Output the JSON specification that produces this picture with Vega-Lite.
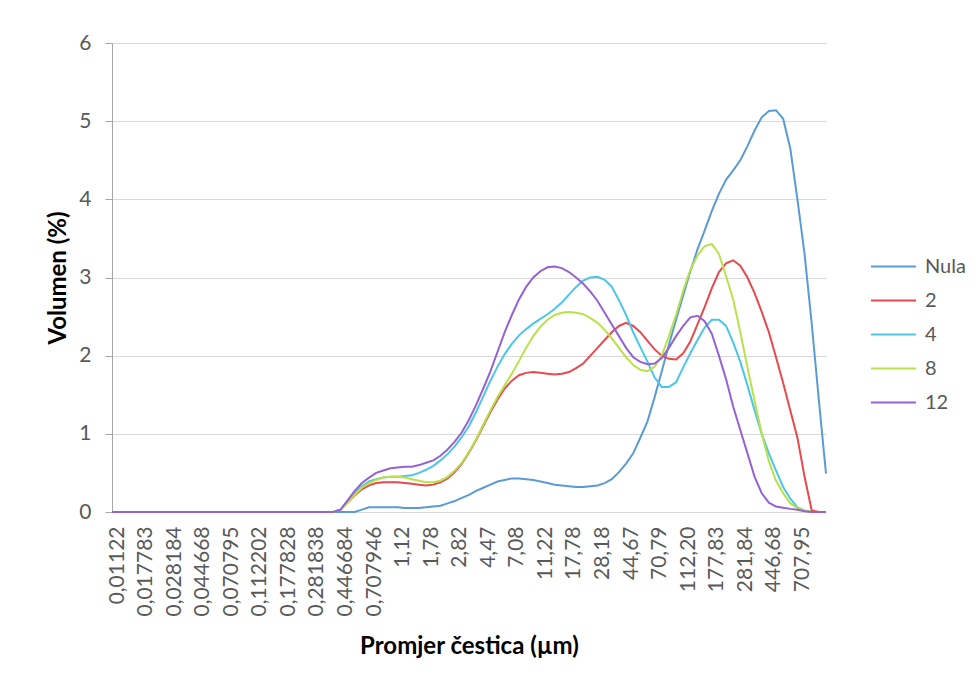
{
"$schema": "https://vega.github.io/schema/vega-lite/v6.json",
"width": 714, "height": 469,
"autosize": {"type": "none"},
"padding": {"left": 112, "top": 43, "right": 154, "bottom": 175},
"background": "white",
"config": {"font": "Lato", "view": {"stroke": null}},
"data": {"values": [
{"d":"0,01122","s":"Nula","v":0},{"d":"0,012589","s":"Nula","v":0},{"d":"0,014125","s":"Nula","v":0},{"d":"0,015849","s":"Nula","v":0},{"d":"0,017783","s":"Nula","v":0},{"d":"0,019953","s":"Nula","v":0},{"d":"0,022387","s":"Nula","v":0},{"d":"0,025119","s":"Nula","v":0},{"d":"0,028184","s":"Nula","v":0},{"d":"0,031623","s":"Nula","v":0},{"d":"0,035481","s":"Nula","v":0},{"d":"0,039811","s":"Nula","v":0},{"d":"0,044668","s":"Nula","v":0},{"d":"0,050119","s":"Nula","v":0},{"d":"0,056234","s":"Nula","v":0},{"d":"0,063096","s":"Nula","v":0},{"d":"0,070795","s":"Nula","v":0},{"d":"0,079433","s":"Nula","v":0},{"d":"0,089125","s":"Nula","v":0},{"d":"0,1","s":"Nula","v":0},{"d":"0,112202","s":"Nula","v":0},{"d":"0,125893","s":"Nula","v":0},{"d":"0,141254","s":"Nula","v":0},{"d":"0,158489","s":"Nula","v":0},{"d":"0,177828","s":"Nula","v":0},{"d":"0,199526","s":"Nula","v":0},{"d":"0,223872","s":"Nula","v":0},{"d":"0,251189","s":"Nula","v":0},{"d":"0,281838","s":"Nula","v":0},{"d":"0,316228","s":"Nula","v":0},{"d":"0,354813","s":"Nula","v":0},{"d":"0,398107","s":"Nula","v":0},{"d":"0,446684","s":"Nula","v":0},{"d":"0,501187","s":"Nula","v":0},{"d":"0,562341","s":"Nula","v":0},{"d":"0,630957","s":"Nula","v":0.03},{"d":"0,707946","s":"Nula","v":0.06},{"d":"0,794328","s":"Nula","v":0.06},{"d":"0,891251","s":"Nula","v":0.06},{"d":"1,00","s":"Nula","v":0.06},{"d":"1,12","s":"Nula","v":0.06},{"d":"1,26","s":"Nula","v":0.05},{"d":"1,41","s":"Nula","v":0.05},{"d":"1,58","s":"Nula","v":0.05},{"d":"1,78","s":"Nula","v":0.06},{"d":"2,00","s":"Nula","v":0.07},{"d":"2,24","s":"Nula","v":0.08},{"d":"2,51","s":"Nula","v":0.11},{"d":"2,82","s":"Nula","v":0.14},{"d":"3,16","s":"Nula","v":0.18},{"d":"3,55","s":"Nula","v":0.22},{"d":"3,98","s":"Nula","v":0.27},{"d":"4,47","s":"Nula","v":0.31},{"d":"5,01","s":"Nula","v":0.35},{"d":"5,62","s":"Nula","v":0.39},{"d":"6,31","s":"Nula","v":0.41},{"d":"7,08","s":"Nula","v":0.43},{"d":"7,94","s":"Nula","v":0.43},{"d":"8,91","s":"Nula","v":0.42},{"d":"10,00","s":"Nula","v":0.41},{"d":"11,22","s":"Nula","v":0.39},{"d":"12,59","s":"Nula","v":0.37},{"d":"14,13","s":"Nula","v":0.35},{"d":"15,85","s":"Nula","v":0.34},{"d":"17,78","s":"Nula","v":0.33},{"d":"19,95","s":"Nula","v":0.32},{"d":"22,39","s":"Nula","v":0.32},{"d":"25,12","s":"Nula","v":0.33},{"d":"28,18","s":"Nula","v":0.34},{"d":"31,62","s":"Nula","v":0.37},{"d":"35,48","s":"Nula","v":0.42},{"d":"39,81","s":"Nula","v":0.51},{"d":"44,67","s":"Nula","v":0.62},{"d":"50,12","s":"Nula","v":0.75},{"d":"56,23","s":"Nula","v":0.95},{"d":"63,10","s":"Nula","v":1.16},{"d":"70,79","s":"Nula","v":1.47},{"d":"79,43","s":"Nula","v":1.8},{"d":"89,13","s":"Nula","v":2.14},{"d":"100,00","s":"Nula","v":2.46},{"d":"112,20","s":"Nula","v":2.77},{"d":"125,89","s":"Nula","v":3.08},{"d":"141,25","s":"Nula","v":3.36},{"d":"158,49","s":"Nula","v":3.6},{"d":"177,83","s":"Nula","v":3.85},{"d":"199,53","s":"Nula","v":4.07},{"d":"223,87","s":"Nula","v":4.25},{"d":"251,19","s":"Nula","v":4.37},{"d":"281,84","s":"Nula","v":4.5},{"d":"316,23","s":"Nula","v":4.68},{"d":"354,81","s":"Nula","v":4.88},{"d":"398,11","s":"Nula","v":5.05},{"d":"446,68","s":"Nula","v":5.13},{"d":"501,19","s":"Nula","v":5.14},{"d":"562,34","s":"Nula","v":5.03},{"d":"630,96","s":"Nula","v":4.65},{"d":"707,95","s":"Nula","v":4.0},{"d":"794,33","s":"Nula","v":3.3},{"d":"891,25","s":"Nula","v":2.41},{"d":"1000,00","s":"Nula","v":1.43},{"d":"1122,02","s":"Nula","v":0.49},
{"d":"0,01122","s":"2","v":0},{"d":"0,012589","s":"2","v":0},{"d":"0,014125","s":"2","v":0},{"d":"0,015849","s":"2","v":0},{"d":"0,017783","s":"2","v":0},{"d":"0,019953","s":"2","v":0},{"d":"0,022387","s":"2","v":0},{"d":"0,025119","s":"2","v":0},{"d":"0,028184","s":"2","v":0},{"d":"0,031623","s":"2","v":0},{"d":"0,035481","s":"2","v":0},{"d":"0,039811","s":"2","v":0},{"d":"0,044668","s":"2","v":0},{"d":"0,050119","s":"2","v":0},{"d":"0,056234","s":"2","v":0},{"d":"0,063096","s":"2","v":0},{"d":"0,070795","s":"2","v":0},{"d":"0,079433","s":"2","v":0},{"d":"0,089125","s":"2","v":0},{"d":"0,1","s":"2","v":0},{"d":"0,112202","s":"2","v":0},{"d":"0,125893","s":"2","v":0},{"d":"0,141254","s":"2","v":0},{"d":"0,158489","s":"2","v":0},{"d":"0,177828","s":"2","v":0},{"d":"0,199526","s":"2","v":0},{"d":"0,223872","s":"2","v":0},{"d":"0,251189","s":"2","v":0},{"d":"0,281838","s":"2","v":0},{"d":"0,316228","s":"2","v":0},{"d":"0,354813","s":"2","v":0},{"d":"0,398107","s":"2","v":0},{"d":"0,446684","s":"2","v":0.03},{"d":"0,501187","s":"2","v":0.12},{"d":"0,562341","s":"2","v":0.21},{"d":"0,630957","s":"2","v":0.29},{"d":"0,707946","s":"2","v":0.34},{"d":"0,794328","s":"2","v":0.37},{"d":"0,891251","s":"2","v":0.38},{"d":"1,00","s":"2","v":0.38},{"d":"1,12","s":"2","v":0.38},{"d":"1,26","s":"2","v":0.37},{"d":"1,41","s":"2","v":0.36},{"d":"1,58","s":"2","v":0.35},{"d":"1,78","s":"2","v":0.34},{"d":"2,00","s":"2","v":0.35},{"d":"2,24","s":"2","v":0.38},{"d":"2,51","s":"2","v":0.43},{"d":"2,82","s":"2","v":0.51},{"d":"3,16","s":"2","v":0.62},{"d":"3,55","s":"2","v":0.76},{"d":"3,98","s":"2","v":0.92},{"d":"4,47","s":"2","v":1.1},{"d":"5,01","s":"2","v":1.28},{"d":"5,62","s":"2","v":1.44},{"d":"6,31","s":"2","v":1.58},{"d":"7,08","s":"2","v":1.68},{"d":"7,94","s":"2","v":1.75},{"d":"8,91","s":"2","v":1.78},{"d":"10,00","s":"2","v":1.79},{"d":"11,22","s":"2","v":1.78},{"d":"12,59","s":"2","v":1.77},{"d":"14,13","s":"2","v":1.76},{"d":"15,85","s":"2","v":1.77},{"d":"17,78","s":"2","v":1.79},{"d":"19,95","s":"2","v":1.84},{"d":"22,39","s":"2","v":1.9},{"d":"25,12","s":"2","v":2.0},{"d":"28,18","s":"2","v":2.1},{"d":"31,62","s":"2","v":2.2},{"d":"35,48","s":"2","v":2.3},{"d":"39,81","s":"2","v":2.38},{"d":"44,67","s":"2","v":2.42},{"d":"50,12","s":"2","v":2.38},{"d":"56,23","s":"2","v":2.3},{"d":"63,10","s":"2","v":2.19},{"d":"70,79","s":"2","v":2.08},{"d":"79,43","s":"2","v":2.0},{"d":"89,13","s":"2","v":1.96},{"d":"100,00","s":"2","v":1.95},{"d":"112,20","s":"2","v":2.03},{"d":"125,89","s":"2","v":2.18},{"d":"141,25","s":"2","v":2.4},{"d":"158,49","s":"2","v":2.62},{"d":"177,83","s":"2","v":2.86},{"d":"199,53","s":"2","v":3.07},{"d":"223,87","s":"2","v":3.18},{"d":"251,19","s":"2","v":3.22},{"d":"281,84","s":"2","v":3.15},{"d":"316,23","s":"2","v":3.0},{"d":"354,81","s":"2","v":2.8},{"d":"398,11","s":"2","v":2.56},{"d":"446,68","s":"2","v":2.3},{"d":"501,19","s":"2","v":1.98},{"d":"562,34","s":"2","v":1.65},{"d":"630,96","s":"2","v":1.3},{"d":"707,95","s":"2","v":0.95},{"d":"794,33","s":"2","v":0.45},{"d":"891,25","s":"2","v":0.02},{"d":"1000,00","s":"2","v":0},{"d":"1122,02","s":"2","v":0},
{"d":"0,01122","s":"4","v":0},{"d":"0,012589","s":"4","v":0},{"d":"0,014125","s":"4","v":0},{"d":"0,015849","s":"4","v":0},{"d":"0,017783","s":"4","v":0},{"d":"0,019953","s":"4","v":0},{"d":"0,022387","s":"4","v":0},{"d":"0,025119","s":"4","v":0},{"d":"0,028184","s":"4","v":0},{"d":"0,031623","s":"4","v":0},{"d":"0,035481","s":"4","v":0},{"d":"0,039811","s":"4","v":0},{"d":"0,044668","s":"4","v":0},{"d":"0,050119","s":"4","v":0},{"d":"0,056234","s":"4","v":0},{"d":"0,063096","s":"4","v":0},{"d":"0,070795","s":"4","v":0},{"d":"0,079433","s":"4","v":0},{"d":"0,089125","s":"4","v":0},{"d":"0,1","s":"4","v":0},{"d":"0,112202","s":"4","v":0},{"d":"0,125893","s":"4","v":0},{"d":"0,141254","s":"4","v":0},{"d":"0,158489","s":"4","v":0},{"d":"0,177828","s":"4","v":0},{"d":"0,199526","s":"4","v":0},{"d":"0,223872","s":"4","v":0},{"d":"0,251189","s":"4","v":0},{"d":"0,281838","s":"4","v":0},{"d":"0,316228","s":"4","v":0},{"d":"0,354813","s":"4","v":0},{"d":"0,398107","s":"4","v":0},{"d":"0,446684","s":"4","v":0.03},{"d":"0,501187","s":"4","v":0.13},{"d":"0,562341","s":"4","v":0.24},{"d":"0,630957","s":"4","v":0.33},{"d":"0,707946","s":"4","v":0.39},{"d":"0,794328","s":"4","v":0.42},{"d":"0,891251","s":"4","v":0.44},{"d":"1,00","s":"4","v":0.45},{"d":"1,12","s":"4","v":0.45},{"d":"1,26","s":"4","v":0.46},{"d":"1,41","s":"4","v":0.47},{"d":"1,58","s":"4","v":0.5},{"d":"1,78","s":"4","v":0.54},{"d":"2,00","s":"4","v":0.59},{"d":"2,24","s":"4","v":0.66},{"d":"2,51","s":"4","v":0.74},{"d":"2,82","s":"4","v":0.84},{"d":"3,16","s":"4","v":0.96},{"d":"3,55","s":"4","v":1.1},{"d":"3,98","s":"4","v":1.28},{"d":"4,47","s":"4","v":1.48},{"d":"5,01","s":"4","v":1.68},{"d":"5,62","s":"4","v":1.86},{"d":"6,31","s":"4","v":2.02},{"d":"7,08","s":"4","v":2.15},{"d":"7,94","s":"4","v":2.26},{"d":"8,91","s":"4","v":2.34},{"d":"10,00","s":"4","v":2.41},{"d":"11,22","s":"4","v":2.47},{"d":"12,59","s":"4","v":2.53},{"d":"14,13","s":"4","v":2.6},{"d":"15,85","s":"4","v":2.68},{"d":"17,78","s":"4","v":2.78},{"d":"19,95","s":"4","v":2.88},{"d":"22,39","s":"4","v":2.96},{"d":"25,12","s":"4","v":3.0},{"d":"28,18","s":"4","v":3.01},{"d":"31,62","s":"4","v":2.97},{"d":"35,48","s":"4","v":2.88},{"d":"39,81","s":"4","v":2.71},{"d":"44,67","s":"4","v":2.52},{"d":"50,12","s":"4","v":2.3},{"d":"56,23","s":"4","v":2.11},{"d":"63,10","s":"4","v":1.92},{"d":"70,79","s":"4","v":1.72},{"d":"79,43","s":"4","v":1.6},{"d":"89,13","s":"4","v":1.6},{"d":"100,00","s":"4","v":1.66},{"d":"112,20","s":"4","v":1.85},{"d":"125,89","s":"4","v":2.03},{"d":"141,25","s":"4","v":2.2},{"d":"158,49","s":"4","v":2.36},{"d":"177,83","s":"4","v":2.46},{"d":"199,53","s":"4","v":2.46},{"d":"223,87","s":"4","v":2.38},{"d":"251,19","s":"4","v":2.17},{"d":"281,84","s":"4","v":1.92},{"d":"316,23","s":"4","v":1.62},{"d":"354,81","s":"4","v":1.3},{"d":"398,11","s":"4","v":1.0},{"d":"446,68","s":"4","v":0.75},{"d":"501,19","s":"4","v":0.53},{"d":"562,34","s":"4","v":0.32},{"d":"630,96","s":"4","v":0.17},{"d":"707,95","s":"4","v":0.06},{"d":"794,33","s":"4","v":0.02},{"d":"891,25","s":"4","v":0},{"d":"1000,00","s":"4","v":0},{"d":"1122,02","s":"4","v":0},
{"d":"0,01122","s":"8","v":0},{"d":"0,012589","s":"8","v":0},{"d":"0,014125","s":"8","v":0},{"d":"0,015849","s":"8","v":0},{"d":"0,017783","s":"8","v":0},{"d":"0,019953","s":"8","v":0},{"d":"0,022387","s":"8","v":0},{"d":"0,025119","s":"8","v":0},{"d":"0,028184","s":"8","v":0},{"d":"0,031623","s":"8","v":0},{"d":"0,035481","s":"8","v":0},{"d":"0,039811","s":"8","v":0},{"d":"0,044668","s":"8","v":0},{"d":"0,050119","s":"8","v":0},{"d":"0,056234","s":"8","v":0},{"d":"0,063096","s":"8","v":0},{"d":"0,070795","s":"8","v":0},{"d":"0,079433","s":"8","v":0},{"d":"0,089125","s":"8","v":0},{"d":"0,1","s":"8","v":0},{"d":"0,112202","s":"8","v":0},{"d":"0,125893","s":"8","v":0},{"d":"0,141254","s":"8","v":0},{"d":"0,158489","s":"8","v":0},{"d":"0,177828","s":"8","v":0},{"d":"0,199526","s":"8","v":0},{"d":"0,223872","s":"8","v":0},{"d":"0,251189","s":"8","v":0},{"d":"0,281838","s":"8","v":0},{"d":"0,316228","s":"8","v":0},{"d":"0,354813","s":"8","v":0},{"d":"0,398107","s":"8","v":0},{"d":"0,446684","s":"8","v":0.03},{"d":"0,501187","s":"8","v":0.12},{"d":"0,562341","s":"8","v":0.22},{"d":"0,630957","s":"8","v":0.31},{"d":"0,707946","s":"8","v":0.37},{"d":"0,794328","s":"8","v":0.41},{"d":"0,891251","s":"8","v":0.44},{"d":"1,00","s":"8","v":0.45},{"d":"1,12","s":"8","v":0.45},{"d":"1,26","s":"8","v":0.44},{"d":"1,41","s":"8","v":0.42},{"d":"1,58","s":"8","v":0.4},{"d":"1,78","s":"8","v":0.38},{"d":"2,00","s":"8","v":0.38},{"d":"2,24","s":"8","v":0.4},{"d":"2,51","s":"8","v":0.45},{"d":"2,82","s":"8","v":0.53},{"d":"3,16","s":"8","v":0.63},{"d":"3,55","s":"8","v":0.77},{"d":"3,98","s":"8","v":0.93},{"d":"4,47","s":"8","v":1.12},{"d":"5,01","s":"8","v":1.3},{"d":"5,62","s":"8","v":1.47},{"d":"6,31","s":"8","v":1.62},{"d":"7,08","s":"8","v":1.77},{"d":"7,94","s":"8","v":1.93},{"d":"8,91","s":"8","v":2.1},{"d":"10,00","s":"8","v":2.25},{"d":"11,22","s":"8","v":2.37},{"d":"12,59","s":"8","v":2.46},{"d":"14,13","s":"8","v":2.52},{"d":"15,85","s":"8","v":2.55},{"d":"17,78","s":"8","v":2.56},{"d":"19,95","s":"8","v":2.55},{"d":"22,39","s":"8","v":2.53},{"d":"25,12","s":"8","v":2.48},{"d":"28,18","s":"8","v":2.42},{"d":"31,62","s":"8","v":2.33},{"d":"35,48","s":"8","v":2.22},{"d":"39,81","s":"8","v":2.1},{"d":"44,67","s":"8","v":1.98},{"d":"50,12","s":"8","v":1.88},{"d":"56,23","s":"8","v":1.82},{"d":"63,10","s":"8","v":1.8},{"d":"70,79","s":"8","v":1.86},{"d":"79,43","s":"8","v":2.0},{"d":"89,13","s":"8","v":2.25},{"d":"100,00","s":"8","v":2.52},{"d":"112,20","s":"8","v":2.83},{"d":"125,89","s":"8","v":3.1},{"d":"141,25","s":"8","v":3.28},{"d":"158,49","s":"8","v":3.4},{"d":"177,83","s":"8","v":3.43},{"d":"199,53","s":"8","v":3.3},{"d":"223,87","s":"8","v":3.02},{"d":"251,19","s":"8","v":2.72},{"d":"281,84","s":"8","v":2.3},{"d":"316,23","s":"8","v":1.85},{"d":"354,81","s":"8","v":1.42},{"d":"398,11","s":"8","v":1.0},{"d":"446,68","s":"8","v":0.65},{"d":"501,19","s":"8","v":0.4},{"d":"562,34","s":"8","v":0.24},{"d":"630,96","s":"8","v":0.11},{"d":"707,95","s":"8","v":0.05},{"d":"794,33","s":"8","v":0.02},{"d":"891,25","s":"8","v":0},{"d":"1000,00","s":"8","v":0},{"d":"1122,02","s":"8","v":0},
{"d":"0,01122","s":"12","v":0},{"d":"0,012589","s":"12","v":0},{"d":"0,014125","s":"12","v":0},{"d":"0,015849","s":"12","v":0},{"d":"0,017783","s":"12","v":0},{"d":"0,019953","s":"12","v":0},{"d":"0,022387","s":"12","v":0},{"d":"0,025119","s":"12","v":0},{"d":"0,028184","s":"12","v":0},{"d":"0,031623","s":"12","v":0},{"d":"0,035481","s":"12","v":0},{"d":"0,039811","s":"12","v":0},{"d":"0,044668","s":"12","v":0},{"d":"0,050119","s":"12","v":0},{"d":"0,056234","s":"12","v":0},{"d":"0,063096","s":"12","v":0},{"d":"0,070795","s":"12","v":0},{"d":"0,079433","s":"12","v":0},{"d":"0,089125","s":"12","v":0},{"d":"0,1","s":"12","v":0},{"d":"0,112202","s":"12","v":0},{"d":"0,125893","s":"12","v":0},{"d":"0,141254","s":"12","v":0},{"d":"0,158489","s":"12","v":0},{"d":"0,177828","s":"12","v":0},{"d":"0,199526","s":"12","v":0},{"d":"0,223872","s":"12","v":0},{"d":"0,251189","s":"12","v":0},{"d":"0,281838","s":"12","v":0},{"d":"0,316228","s":"12","v":0},{"d":"0,354813","s":"12","v":0},{"d":"0,398107","s":"12","v":0},{"d":"0,446684","s":"12","v":0.03},{"d":"0,501187","s":"12","v":0.15},{"d":"0,562341","s":"12","v":0.27},{"d":"0,630957","s":"12","v":0.37},{"d":"0,707946","s":"12","v":0.44},{"d":"0,794328","s":"12","v":0.5},{"d":"0,891251","s":"12","v":0.53},{"d":"1,00","s":"12","v":0.56},{"d":"1,12","s":"12","v":0.57},{"d":"1,26","s":"12","v":0.58},{"d":"1,41","s":"12","v":0.58},{"d":"1,58","s":"12","v":0.6},{"d":"1,78","s":"12","v":0.63},{"d":"2,00","s":"12","v":0.66},{"d":"2,24","s":"12","v":0.72},{"d":"2,51","s":"12","v":0.8},{"d":"2,82","s":"12","v":0.9},{"d":"3,16","s":"12","v":1.02},{"d":"3,55","s":"12","v":1.18},{"d":"3,98","s":"12","v":1.37},{"d":"4,47","s":"12","v":1.58},{"d":"5,01","s":"12","v":1.8},{"d":"5,62","s":"12","v":2.05},{"d":"6,31","s":"12","v":2.3},{"d":"7,08","s":"12","v":2.52},{"d":"7,94","s":"12","v":2.72},{"d":"8,91","s":"12","v":2.88},{"d":"10,00","s":"12","v":3.0},{"d":"11,22","s":"12","v":3.08},{"d":"12,59","s":"12","v":3.13},{"d":"14,13","s":"12","v":3.14},{"d":"15,85","s":"12","v":3.12},{"d":"17,78","s":"12","v":3.07},{"d":"19,95","s":"12","v":3.0},{"d":"22,39","s":"12","v":2.92},{"d":"25,12","s":"12","v":2.82},{"d":"28,18","s":"12","v":2.7},{"d":"31,62","s":"12","v":2.55},{"d":"35,48","s":"12","v":2.4},{"d":"39,81","s":"12","v":2.25},{"d":"44,67","s":"12","v":2.1},{"d":"50,12","s":"12","v":1.98},{"d":"56,23","s":"12","v":1.92},{"d":"63,10","s":"12","v":1.89},{"d":"70,79","s":"12","v":1.9},{"d":"79,43","s":"12","v":1.97},{"d":"89,13","s":"12","v":2.1},{"d":"100,00","s":"12","v":2.25},{"d":"112,20","s":"12","v":2.38},{"d":"125,89","s":"12","v":2.49},{"d":"141,25","s":"12","v":2.51},{"d":"158,49","s":"12","v":2.44},{"d":"177,83","s":"12","v":2.28},{"d":"199,53","s":"12","v":2.0},{"d":"223,87","s":"12","v":1.7},{"d":"251,19","s":"12","v":1.35},{"d":"281,84","s":"12","v":1.05},{"d":"316,23","s":"12","v":0.75},{"d":"354,81","s":"12","v":0.45},{"d":"398,11","s":"12","v":0.24},{"d":"446,68","s":"12","v":0.12},{"d":"501,19","s":"12","v":0.07},{"d":"562,34","s":"12","v":0.055},{"d":"630,96","s":"12","v":0.04},{"d":"707,95","s":"12","v":0.03},{"d":"794,33","s":"12","v":0.01},{"d":"891,25","s":"12","v":0},{"d":"1000,00","s":"12","v":0},{"d":"1122,02","s":"12","v":0}
]},
"mark": {"type": "line", "strokeWidth": 2},
"encoding": {
"x": {"field": "d", "type": "ordinal", "sort": null,
"scale": {"type": "point", "padding": 0},
"axis": {"title": "Promjer čestica (µm)", "values": ["0,01122","0,017783","0,028184","0,044668","0,070795","0,112202","0,177828","0,281838","0,446684","0,707946","1,12","1,78","2,82","4,47","7,08","11,22","17,78","28,18","44,67","70,79","112,20","177,83","281,84","446,68","707,95"],
"labelAngle": 270, "labelFontSize": 21, "labelColor": "#595959", "labelPadding": 14, "labelOffset": 5, "labelOverlap": false,
"ticks": false, "grid": false, "domainColor": "#d9d9d9", "domainWidth": 1,
"titleFontSize": 24, "titleFontWeight": "bold", "titleColor": "#000000", "titlePadding": 18}},
"y": {"field": "v", "type": "quantitative", "scale": {"domain": [0, 6], "nice": false},
"axis": {"title": "Volumen (%)", "values": [0,1,2,3,4,5,6], "labelFontSize": 21, "labelColor": "#595959", "labelPadding": 14, "tickSize": 7, "tickColor": "#a6a6a6", "domainColor": "#a6a6a6", "gridColor": "#d9d9d9", "grid": true,
"titleFontSize": 24, "titleFontWeight": "bold", "titleColor": "#000000", "titlePadding": 8}},
"color": {"field": "s", "type": "nominal",
"scale": {"domain": ["Nula","2","4","8","12"], "range": ["#5B9BD5","#E9484C","#4CC6E8","#B9E14A","#9562D6"]},
"legend": {"title": null, "orient": "none", "legendX": 758, "legendY": 200, "symbolType": "stroke", "symbolSize": 2025, "symbolStrokeWidth": 2, "labelFontSize": 20, "labelColor": "#595959", "labelOffset": 8, "rowPadding": 0, "padding": 0}}
}
}
